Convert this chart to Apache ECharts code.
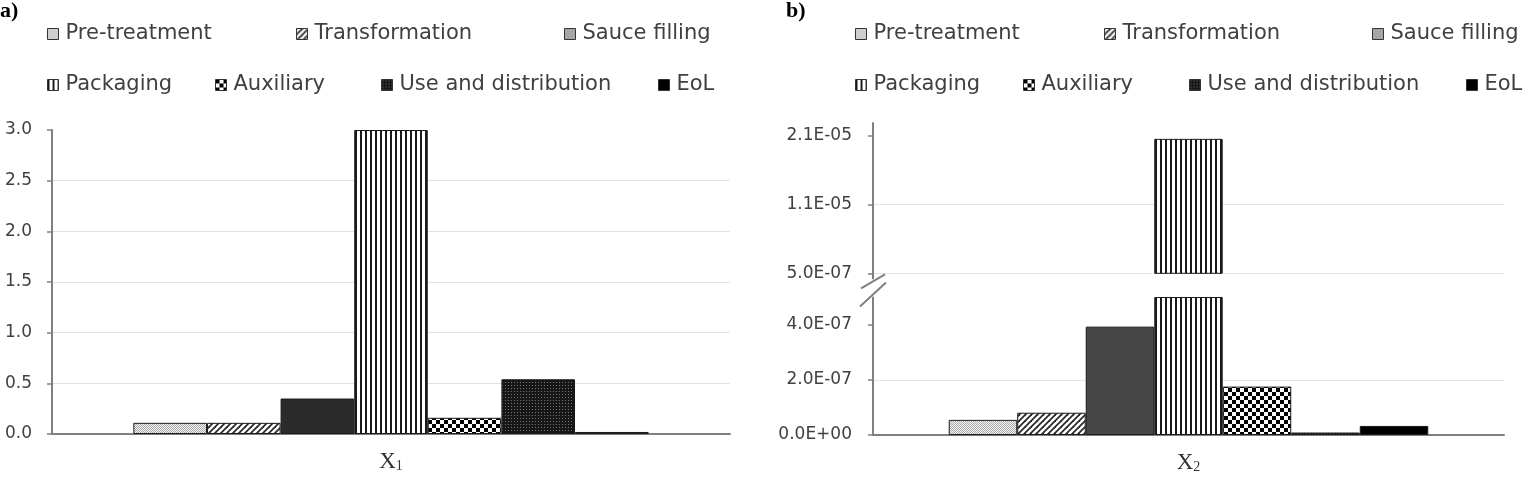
<!DOCTYPE html>
<html lang="en">
<head>
<meta charset="UTF-8">
<title>Stage contributions X1 / X2</title>
<script src="https://cdn.jsdelivr.net/npm/echarts@6/dist/echarts.min.js"></script>
<style>
  body { margin: 0; background: #ffffff; }
  #main { width: 1528px; height: 478px; }
</style>
</head>
<body>
<div id="main"></div>
<script>
  // life-cycle stages, in bar / legend order
  const stages = ['Pre-treatment', 'Transformation', 'Sauce filling', 'Packaging', 'Auxiliary', 'Use and distribution', 'EoL'];

  // panel a)
  const catsA = ['X1'];
  const valuesA = [0.11, 0.11, 0.35, 3.0, 0.16, 0.54, 0.02];
  const ticksA = [0, 0.5, 1.0, 1.5, 2.0, 2.5, 3.0];
  const tickLabelsA = ['0.0', '0.5', '1.0', '1.5', '2.0', '2.5', '3.0'];

  // panel b) - broken value axis
  const catsB = ['X2'];
  const valuesB = [5.5e-8, 8.1e-8, 3.94e-7, 2.0e-5, 1.76e-7, 9e-9, 3.3e-8];
  const breakValue = 5e-7;
  const ticksBLow = [0, 2e-7, 4e-7];
  const tickLabelsBLow = ['0.0E+00', '2.0E-07', '4.0E-07'];
  const ticksBHigh = [5e-7, 1.05e-5, 2.05e-5];
  const tickLabelsBHigh = ['5.0E-07', '1.1E-05', '2.1E-05'];
  const maxBHigh = 2.23e-5;

  const axisGrey = '#808080';
  const textGrey = '#404040';
  const sansFont = 'DejaVu Sans';
  const serifFont = 'Liberation Serif';

  // small canvas tiles for the Excel-like hatch fills
  function tile(w, h, draw) {
    const c = document.createElement('canvas');
    c.width = w; c.height = h;
    const ctx = c.getContext('2d');
    draw(ctx);
    return { image: c, repeat: 'repeat' };
  }
  const dotted = tile(2, 2, ctx => {
    ctx.fillStyle = '#f4f4f4'; ctx.fillRect(0, 0, 2, 2);
    ctx.fillStyle = '#a9a9a9'; ctx.fillRect(0, 0, 1, 1); ctx.fillRect(1, 1, 1, 1);
  });
  const diagonal = tile(6, 6, ctx => {
    ctx.fillStyle = '#ffffff'; ctx.fillRect(0, 0, 6, 6);
    ctx.strokeStyle = '#2a2a2a'; ctx.lineWidth = 1.8;
    [[-6, 6, 6, -6], [0, 6, 6, 0], [0, 12, 12, 0]].forEach(([a, b, c, d]) => {
      ctx.beginPath(); ctx.moveTo(a, b); ctx.lineTo(c, d); ctx.stroke();
    });
  });
  const vertical = tile(5, 4, ctx => {
    ctx.fillStyle = '#ffffff'; ctx.fillRect(0, 0, 5, 4);
    ctx.fillStyle = '#1a1a1a'; ctx.fillRect(0, 0, 2, 4);
  });
  const checker = tile(8, 8, ctx => {
    ctx.fillStyle = '#ffffff'; ctx.fillRect(0, 0, 8, 8);
    ctx.fillStyle = '#000000'; ctx.fillRect(0, 0, 4, 4); ctx.fillRect(4, 4, 4, 4);
  });
  const darkDots = tile(3, 3, ctx => {
    ctx.fillStyle = '#161616'; ctx.fillRect(0, 0, 3, 3);
    ctx.fillStyle = '#777777'; ctx.fillRect(1, 1, 1, 1);
  });

  const fillsA = [dotted, diagonal, '#2b2b2b', vertical, checker, darkDots, '#000000'];
  const fillsB = [dotted, diagonal, '#474747', vertical, checker, darkDots, '#000000'];
  const legendFills = [dotted, diagonal, '#a6a6a6', vertical, checker, darkDots, '#000000'];

  function labelFor(ticks, labels) {
    return v => {
      const i = ticks.findIndex(t => Math.abs(t - v) <= Math.abs(t) * 1e-6 + 1e-12);
      return i < 0 ? '' : labels[i];
    };
  }

  const gridA = { left: 52, top: 130, width: 678, height: 304 };
  const gridBHigh = { left: 873, top: 123, width: 631, height: 150.3 };
  const gridBLow = { left: 873, top: 297.5, width: 631, height: 137.5 };

  const valueAxisBase = {
    type: 'value',
    axisLine: { show: true, lineStyle: { color: axisGrey, width: 2 } },
    axisTick: { show: true, inside: false, length: 5, lineStyle: { color: axisGrey, width: 1.5 } },
    splitLine: { show: true, showMaxLine: false, lineStyle: { color: '#e2e2e2', width: 1 } },
    axisLabel: { fontFamily: sansFont, fontSize: 17, color: textGrey, margin: 20 }
  };
  const catLabel = {
    formatter: v => '{x|' + v.charAt(0) + '}{s|' + v.slice(1) + '}',
    margin: 15,
    rich: {
      x: { fontFamily: serifFont, fontSize: 23, lineHeight: 24, verticalAlign: 'bottom', color: '#333333' },
      s: { fontFamily: serifFont, fontSize: 14, lineHeight: 13, verticalAlign: 'bottom', color: '#333333' }
    }
  };
  const catAxisBase = {
    type: 'category',
    axisLine: { show: true, lineStyle: { color: axisGrey, width: 2 } },
    axisTick: { show: false }
  };

  const series = [];
  stages.forEach((name, i) => {
    const common = {
      name: name,
      type: 'bar',
      barGap: '0%',
      barCategoryGap: '24%',
      clip: true
    };
    series.push(Object.assign({}, common, {
      xAxisIndex: 0, yAxisIndex: 0, data: [valuesA[i]],
      itemStyle: { color: fillsA[i], borderColor: '#1a1a1a', borderWidth: 1 }
    }));
    series.push(Object.assign({}, common, {
      xAxisIndex: 1, yAxisIndex: 1, data: [valuesB[i]],
      itemStyle: { color: fillsB[i], borderColor: '#1a1a1a', borderWidth: 1 }
    }));
    series.push(Object.assign({}, common, {
      xAxisIndex: 2, yAxisIndex: 2, data: [valuesB[i]],
      itemStyle: { color: fillsB[i], borderColor: '#1a1a1a', borderWidth: 1 }
    }));
  });

  // legend placement: [stage index, left within panel, row]
  const legendSlots = [
    [0, 47, 0], [1, 296, 0], [2, 564, 0],
    [3, 47, 1], [4, 215, 1], [5, 381, 1], [6, 658, 1]
  ];
  const rowTops = [22, 73];
  const panelOffsets = [0, 808];
  const legends = [];
  panelOffsets.forEach(off => {
    legendSlots.forEach(([idx, left, row]) => {
      legends.push({
        left: off + left,
        top: rowTops[row],
        padding: 0,
        itemWidth: 11,
        itemHeight: 11,
        icon: 'rect',
        selectedMode: false,
        data: [{
          name: stages[idx],
          itemStyle: { color: legendFills[idx], borderColor: '#333333', borderWidth: 1 }
        }],
        textStyle: { fontFamily: sansFont, fontSize: 21, color: textGrey, lineHeight: 24, padding: [0, 0, 0, 2] }
      });
    });
  });

  const chart = echarts.init(document.getElementById('main'));
  const option = {
    backgroundColor: '#ffffff',
    animation: false,
    title: [
      { text: 'a)', left: 0, top: 0, padding: 0, textStyle: { fontFamily: serifFont, fontWeight: 'bold', fontSize: 22, color: '#000000' } },
      { text: 'b)', left: 786, top: 0, padding: 0, textStyle: { fontFamily: serifFont, fontWeight: 'bold', fontSize: 22, color: '#000000' } }
    ],
    legend: legends,
    grid: [gridA, gridBHigh, gridBLow].map(g => Object.assign({ containLabel: false, outerBoundsMode: 'none' }, g)),
    xAxis: [
      Object.assign({}, catAxisBase, { gridIndex: 0, data: catsA, axisLabel: catLabel }),
      Object.assign({}, catAxisBase, { gridIndex: 1, data: catsB, show: false }),
      Object.assign({}, catAxisBase, { gridIndex: 2, data: catsB, axisLabel: catLabel })
    ],
    yAxis: [
      Object.assign({}, valueAxisBase, {
        gridIndex: 0, min: 0, max: 3, interval: 0.5,
        axisLabel: Object.assign({}, valueAxisBase.axisLabel, { formatter: labelFor(ticksA, tickLabelsA) })
      }),
      Object.assign({}, valueAxisBase, {
        gridIndex: 1, min: breakValue, max: maxBHigh,
        axisTick: Object.assign({}, valueAxisBase.axisTick, { customValues: ticksBHigh }),
        axisLabel: Object.assign({}, valueAxisBase.axisLabel, { margin: 21, customValues: ticksBHigh, formatter: labelFor(ticksBHigh, tickLabelsBHigh) })
      }),
      Object.assign({}, valueAxisBase, {
        gridIndex: 2, min: 0, max: breakValue,
        splitLine: { show: true, showMaxLine: false, lineStyle: { color: '#e2e2e2', width: 1 } },
        axisTick: Object.assign({}, valueAxisBase.axisTick, { customValues: ticksBLow }),
        axisLabel: Object.assign({}, valueAxisBase.axisLabel, { margin: 21, customValues: ticksBLow, formatter: labelFor(ticksBLow, tickLabelsBLow) })
      })
    ],
    series: series
  };
  chart.setOption(option);

  // "//" break marks on the panel b) value axis
  const axisX = gridBLow.left;
  const yHigh = chart.convertToPixel({ yAxisIndex: 1 }, breakValue);
  const yLow = chart.convertToPixel({ yAxisIndex: 2 }, breakValue);
  chart.setOption({
    graphic: [
      { type: 'line', shape: { x1: axisX, y1: yHigh, x2: axisX, y2: yHigh + 6 }, style: { stroke: axisGrey, lineWidth: 2 } },
      { type: 'line', shape: { x1: axisX - 12, y1: yHigh + 15, x2: axisX + 12, y2: yHigh + 1 }, style: { stroke: axisGrey, lineWidth: 2 } },
      { type: 'line', shape: { x1: axisX - 13, y1: yLow + 9, x2: axisX + 13, y2: yLow - 15 }, style: { stroke: axisGrey, lineWidth: 2 } }
    ]
  });
</script>
</body>
</html>
